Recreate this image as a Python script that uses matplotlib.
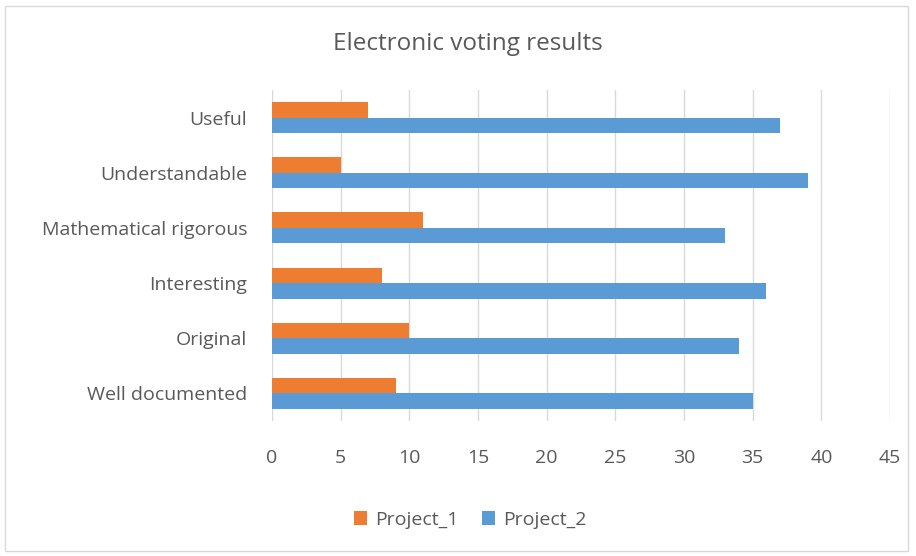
import matplotlib
matplotlib.use("Agg")
import matplotlib.pyplot as plt
import numpy as np
from matplotlib.patches import Rectangle

categories = ["Well documented", "Original", "Interesting", "Mathematical rigorous", "Understandable", "Useful"]
project_1 = [9, 10, 8, 11, 5, 7]
project_2 = [35, 34, 36, 33, 39, 37]
x_ticks = [0, 5, 10, 15, 20, 25, 30, 35, 40, 45]

plt.rcParams['font.family'] = ['Open Sans', 'DejaVu Sans']
text_color = "#595959"
c1 = "#ED7D31"
c2 = "#5B9BD5"

fig = plt.figure(figsize=(9.16, 5.56), dpi=100)
fig.patches.append(Rectangle((5/916, 5/556), 903/916, 545/556, transform=fig.transFigure,
                             fill=False, edgecolor="#D9D9D9", linewidth=1.0))
ax = fig.add_axes([272/916, 1 - 421/556, (890-272)/916, (421-90)/556])

y = np.arange(len(categories))
h = 0.28
ax.barh(y - h/2, project_2, height=h, color=c2, label="Project_2", zorder=3)
ax.barh(y + h/2, project_1, height=h, color=c1, label="Project_1", zorder=3)

ax.set_xlim(0, 45)
ax.set_ylim(-0.5, len(categories) - 0.5)
ax.set_xticks(x_ticks)
ax.set_xticklabels([str(t) for t in x_ticks])
ax.set_yticks(y)
ax.set_yticklabels(categories)
ax.tick_params(axis='both', length=0, labelsize=14, colors=text_color)
ax.tick_params(axis='x', pad=20)
ax.tick_params(axis='y', pad=18)
ax.grid(axis='x', color="#D9D9D9", linewidth=1.0, zorder=0)
for s in ax.spines.values():
    s.set_visible(False)

fig.text(468/916, 1 - 44/556, "Electronic voting results", ha='center', va='center',
         fontsize=17.5, color=text_color)

handles, labels = ax.get_legend_handles_labels()
fig.legend(handles[::-1], labels[::-1], loc='center', bbox_to_anchor=(470/916, 1 - 520/556),
           ncol=2, frameon=False, fontsize=14, labelcolor=text_color,
           handlelength=0.7, handleheight=0.7, handletextpad=0.4, columnspacing=1.2)

fig.savefig("out.png", dpi=100)
